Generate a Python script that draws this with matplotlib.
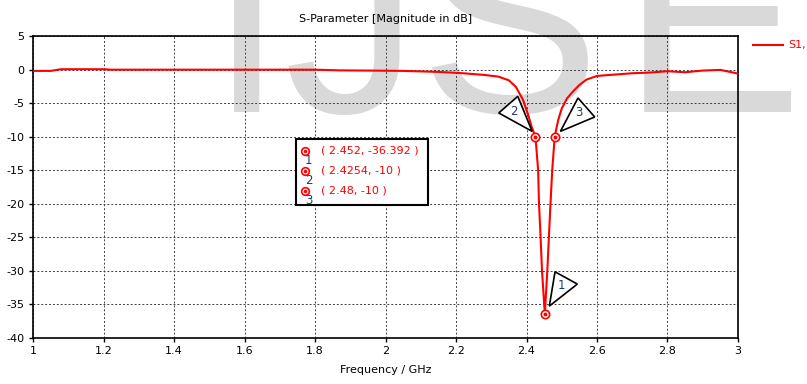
#!/usr/bin/env python3
"""S11 magnitude plot (CST-style) with markers"""

import matplotlib
matplotlib.use('Agg')
import matplotlib.pyplot as plt
from matplotlib.patches import Polygon, Rectangle
from matplotlib.lines import Line2D
from matplotlib.transforms import ScaledTranslation

plt.rcParams['axes.unicode_minus'] = False
plt.rcParams['font.family'] = 'DejaVu Sans'

# S1,1 magnitude in dB
freq = [1.0, 1.05, 1.08, 1.2, 1.22, 1.5, 1.8, 1.87, 1.95, 2.05, 2.15, 2.22,
        2.28, 2.32, 2.35, 2.37, 2.39, 2.405, 2.415, 2.4254, 2.433, 2.4355,
        2.44, 2.444, 2.452, 2.459, 2.4635, 2.468, 2.473, 2.48, 2.49, 2.50,
        2.515, 2.533, 2.55, 2.57, 2.6, 2.65, 2.7, 2.75, 2.8, 2.85, 2.9,
        2.95, 3.0]
s11 = [-0.2, -0.2, 0.05, 0.05, -0.02, -0.02, -0.02, -0.12, -0.15, -0.2,
       -0.35, -0.55, -0.8, -1.05, -1.6, -2.6, -4.5, -6.8, -8.6, -10, -15,
       -20, -25, -30, -36.392, -30, -25, -20, -15, -10, -7.5, -5.8, -4.3,
       -3.2, -2.3, -1.5, -0.95, -0.75, -0.55, -0.45, -0.25, -0.4, -0.15,
       -0.05, -0.6]

# markers 1..3
mk_freq = [2.452, 2.4254, 2.48]
mk_db = [-36.392, -10, -10]
mk_names = ['1', '2', '3']

xticks = [1, 1.2, 1.4, 1.6, 1.8, 2, 2.2, 2.4, 2.6, 2.8, 3]
yticks = [5, 0, -5, -10, -15, -20, -25, -30, -35, -40]

# triangle callouts, pixel offsets from the marker (apex, two corners, label)
tri_verts = [
    [(4.5, 7.7), (10.2, 42), (32.5, 29.7)],
    [(-3.3, 5.3), (-36.7, 23.7), (-17.7, 40.3)],
    [(5.7, 5.3), (23.3, 38.7), (40, 19.7)],
]
tri_label = [(17, 28.7), (-21.7, 25.3), (24.3, 24.3)]

W, H = 807, 384
fig = plt.figure(figsize=(W / 100, H / 100), dpi=100)

# watermark behind everything
wm = dict(fontsize=195, family='Liberation Sans', color='#d9d9d9',
          ha='left', va='baseline', zorder=0)
fig.text(209 / W, 1 - 112 / H, 'IJS', **wm)
fig.text(622 / W, 1 - 112 / H, 'E', **wm)

ax = fig.add_axes([33 / W, (H - 338) / H, 705 / W, 302 / H])
ax.set_zorder(1)
ax.patch.set_facecolor('none')

ax.set_xlim(1, 3)
ax.set_ylim(-40, 5)
ax.set_xticks(xticks)
ax.set_xticklabels([f'{t:g}' for t in xticks])
ax.set_yticks(yticks)
ax.grid(True, color='#404040', linestyle=(0, (2, 2)), linewidth=0.7)
ax.tick_params(direction='out', length=3, width=1, labelsize=8, pad=3)
for sp in ax.spines.values():
    sp.set_linewidth(1.2)

ax.plot(freq, s11, color='#ff0000', linewidth=1.5, zorder=3)

ax.plot(mk_freq, mk_db, 'o', ms=6, mfc='white', mec='#ff0000', mew=1.2, zorder=6)
ax.plot(mk_freq, mk_db, 'o', ms=1.8, color='#ff0000', zorder=7)

for f, v, verts, lab, name in zip(mk_freq, mk_db, tri_verts, tri_label, mk_names):
    tr = ScaledTranslation(f, v, ax.transData)
    ax.add_patch(Polygon(verts, closed=True, transform=tr, facecolor='white',
                         edgecolor='black', linewidth=1.2, zorder=5))
    ax.text(lab[0], lab[1], name, transform=tr, fontsize=8.5, color='#1f3a6e',
            ha='center', va='center', zorder=6)

# marker value box
ax.add_patch(Rectangle((0.373, 0.440), 0.187, 0.219, transform=ax.transAxes,
                       facecolor='white', edgecolor='black', linewidth=1.5,
                       zorder=4))
row_y = [0.620, 0.554, 0.487]
for y, f, v, name in zip(row_y, mk_freq, mk_db, mk_names):
    ax.plot([0.386], [y], 'o', ms=5.5, mfc='white', mec='#ff0000', mew=1.2,
            transform=ax.transAxes, zorder=6, clip_on=False)
    ax.plot([0.386], [y], 'o', ms=1.5, color='#ff0000',
            transform=ax.transAxes, zorder=7, clip_on=False)
    ax.text(0.391, y - 0.033, name, transform=ax.transAxes, fontsize=8.5,
            color='#1f3a6e', ha='center', va='center', zorder=6)
    ax.text(0.409, y, f'( {f:g}, {v:g} )', transform=ax.transAxes, fontsize=8,
            color='#ff0000', ha='left', va='center', zorder=6)

ax.set_title('S-Parameter [Magnitude in dB]', fontsize=8, pad=10)
ax.set_xlabel('Frequency / GHz', fontsize=8, labelpad=6)

# legend outside on the right
fig.add_artist(Line2D([753 / W, 783 / W], [1 - 45 / H] * 2, color='#ff0000',
                      linewidth=1.5))
fig.text(788 / W, 1 - 45 / H, 'S1,', color='#ff0000', fontsize=8,
         ha='left', va='center')

fig.savefig('out.png', dpi=100)
